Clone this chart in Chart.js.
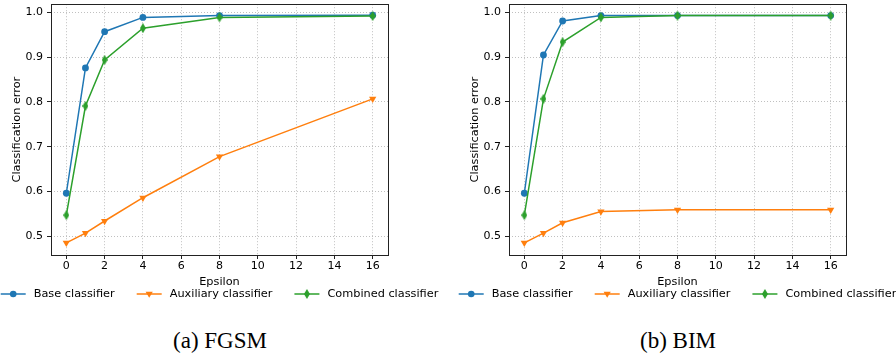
<!DOCTYPE html>
<html>
<head>
<meta charset="utf-8">
<script src="https://cdn.jsdelivr.net/npm/chart.js@4.4.1/dist/chart.umd.min.js"></script>
<style>
  body { margin: 0; background: #fff; width: 896px; height: 358px; position: relative; overflow: hidden; }
  canvas { position: absolute; top: 0; }
  #chartA { left: 0; }
  #chartB { left: 458px; }
  .cap { position: absolute; top: 329px; width: 300px; text-align: center;
         font-family: "Liberation Serif", serif; font-size: 23px; line-height: 23px; color: #000; }
</style>
</head>
<body>
<canvas id="chartA" width="440" height="305"></canvas>
<canvas id="chartB" width="440" height="305"></canvas>
<div class="cap" style="left:70px">(a) FGSM</div>
<div class="cap" style="left:528px">(b) BIM</div>
<script>
var epsilons = [0, 1, 2, 4, 8, 16];
var xTicks = [0, 2, 4, 6, 8, 10, 12, 14, 16];
var yTicks = [0.5, 0.6, 0.7, 0.8, 0.9, 1.0];
var seriesNames = ["Base classifier", "Auxiliary classifier", "Combined classifier"];

// FGSM
var fgsmBase = [0.596, 0.876, 0.957, 0.989, 0.993, 0.994];
var fgsmAux = [0.485, 0.507, 0.534, 0.586, 0.678, 0.807];
var fgsmCombined = [0.547, 0.791, 0.894, 0.965, 0.989, 0.992];

// BIM
var bimBase = [0.596, 0.905, 0.981, 0.993, 0.993, 0.993];
var bimAux = [0.485, 0.507, 0.530, 0.555, 0.559, 0.559];
var bimCombined = [0.547, 0.807, 0.934, 0.989, 0.993, 0.993];

var colors = ["#1f77b4", "#ff7f0e", "#2ca02c"];

Chart.defaults.font.family = "'DejaVu Sans', sans-serif";
Chart.defaults.font.size = 11;
Chart.defaults.color = "#000";

// thin diamond marker like matplotlib 'd'
function thinDiamond(color) {
  var c = document.createElement("canvas");
  c.width = 6; c.height = 10;
  var g = c.getContext("2d");
  g.fillStyle = color;
  g.beginPath();
  g.moveTo(3, 0); g.lineTo(6, 5); g.lineTo(3, 10); g.lineTo(0, 5);
  g.closePath();
  g.fill();
  return c;
}
var diamondImg = thinDiamond(colors[2]);

function drawMarker(ctx, i, x, y) {
  ctx.fillStyle = colors[i];
  ctx.beginPath();
  if (i === 0) {
    ctx.arc(x, y, 3.3, 0, Math.PI * 2);
    ctx.fill();
  } else if (i === 1) {
    ctx.moveTo(x - 3.6, y - 2.2); ctx.lineTo(x + 3.6, y - 2.2); ctx.lineTo(x, y + 3.8);
    ctx.closePath();
    ctx.fill();
  } else {
    ctx.drawImage(diamondImg, x - 3, y - 5);
  }
}

var frameAndLegend = {
  id: "frameAndLegend",
  afterDraw: function (chart) {
    var ctx = chart.ctx;
    var a = chart.chartArea;
    ctx.save();
    ctx.strokeStyle = "#222";
    ctx.lineWidth = 1;
    ctx.setLineDash([]);
    ctx.strokeRect(Math.round(a.left) + 0.5, Math.round(a.top) + 0.5,
                   Math.round(a.right - a.left), Math.round(a.bottom - a.top));

    // legend row under the x title
    ctx.font = "11.3px 'DejaVu Sans'";
    ctx.textBaseline = "middle";
    ctx.textAlign = "left";
    var lineLen = 25, gap = 8, sep = 22;
    var widths = seriesNames.map(function (s) { return ctx.measureText(s).width; });
    var total = widths.reduce(function (s, w) { return s + w; }, 0) + 3 * (lineLen + gap) + 2 * sep;
    var x = (a.left + a.right) / 2 - total / 2;
    var y = 294;
    for (var i = 0; i < 3; i++) {
      ctx.strokeStyle = colors[i];
      ctx.lineWidth = 1.5;
      ctx.beginPath();
      ctx.moveTo(x, y); ctx.lineTo(x + lineLen, y);
      ctx.stroke();
      drawMarker(ctx, i, x + lineLen / 2, y);
      ctx.fillStyle = "#000";
      ctx.fillText(seriesNames[i], x + lineLen + gap, y);
      x += lineLen + gap + widths[i] + sep;
    }
    ctx.restore();
  }
};

function makeChart(id, base, aux, combined) {
  var sets = [base, aux, combined];
  var datasets = sets.map(function (vals, i) {
    return {
      label: seriesNames[i],
      data: epsilons.map(function (e, j) { return { x: e, y: vals[j] }; }),
      borderColor: colors[i],
      backgroundColor: colors[i],
      borderWidth: 1.5,
      pointStyle: i === 0 ? "circle" : (i === 1 ? "triangle" : diamondImg),
      pointRotation: i === 1 ? 180 : 0,
      pointRadius: i === 1 ? 4.2 : 3.4,
      pointBorderWidth: 0,
      order: 3 - i
    };
  });

  return new Chart(document.getElementById(id), {
    type: "line",
    data: { datasets: datasets },
    options: {
      responsive: false,
      animation: false,
      layout: { padding: { left: 0, top: 4, right: 52, bottom: 16 } },
      plugins: {
        legend: { display: false },
        tooltip: { enabled: false }
      },
      scales: {
        x: {
          type: "linear",
          min: -0.8,
          max: 16.8,
          afterBuildTicks: function (s) { s.ticks = xTicks.map(function (v) { return { value: v }; }); },
          afterFit: function (s) { s.height = 34; s.paddingLeft = 0; s.paddingRight = 0; },
          ticks: { padding: 1, maxRotation: 0, font: { size: 11 } },
          grid: { color: "#b0b0b0", lineWidth: 0.8, tickLength: 4, tickColor: "#222", tickWidth: 1, tickBorderDash: [] },
          border: { display: false, dash: [1, 2] },
          title: { display: true, text: "Epsilon", font: { size: 11.3 }, padding: { top: 0, bottom: 0 } }
        },
        y: {
          min: 0.458,
          max: 1.0185,
          afterBuildTicks: function (s) { s.ticks = yTicks.map(function (v) { return { value: v }; }); },
          afterFit: function (s) { s.width = 51; s.paddingTop = 0; s.paddingBottom = 0; },
          ticks: { padding: 4, font: { size: 11 }, callback: function (v) { return v.toFixed(1); } },
          grid: { color: "#b0b0b0", lineWidth: 0.8, tickLength: 4, tickColor: "#222", tickWidth: 1, tickBorderDash: [] },
          border: { display: false, dash: [1, 2] },
          title: { display: true, text: "Classification error", font: { size: 11.3 }, padding: { top: 10, bottom: 0 } }
        }
      }
    },
    plugins: [frameAndLegend]
  });
}

makeChart("chartA", fgsmBase, fgsmAux, fgsmCombined);
makeChart("chartB", bimBase, bimAux, bimCombined);
</script>
</body>
</html>
